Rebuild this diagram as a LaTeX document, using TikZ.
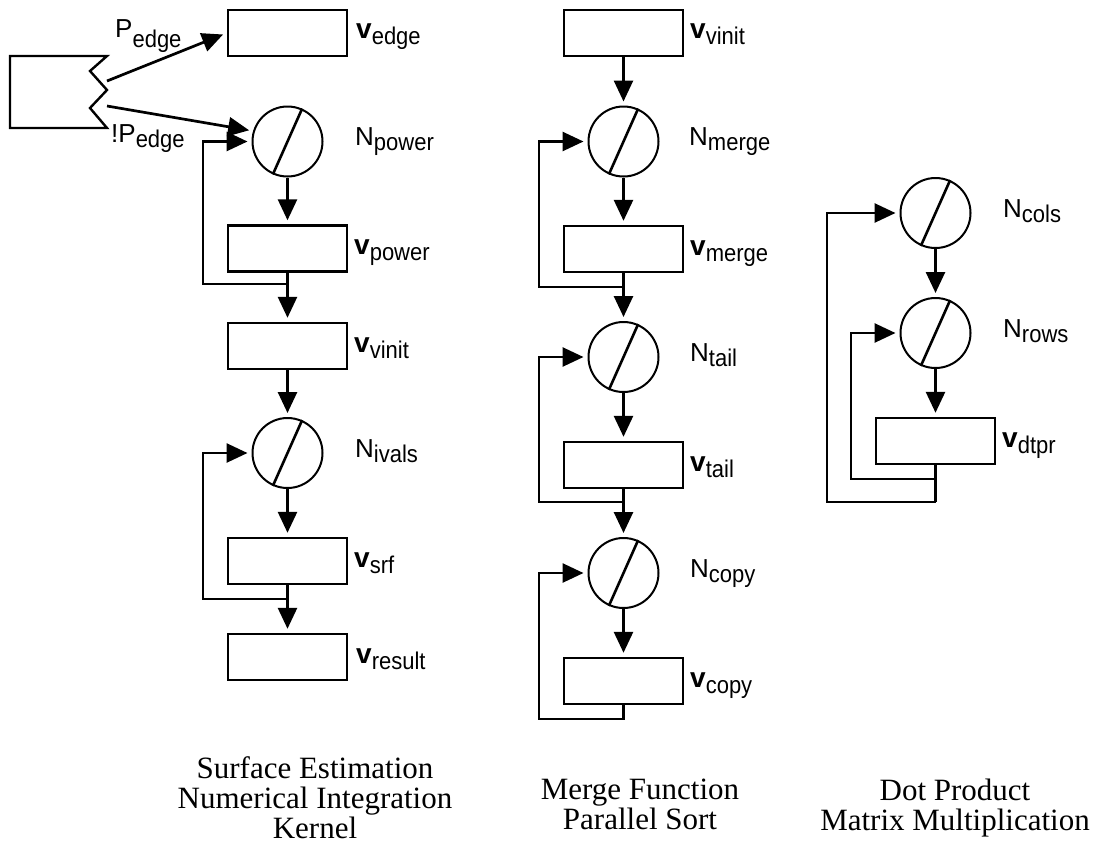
\documentclass[tikz,border=0pt]{standalone}
\usepackage{graphicx}
\usepackage{fontspec}
\setmainfont{Liberation Serif}
\newfontfamily\labfont{Liberation Sans}
\usetikzlibrary{arrows.meta}

% subscript text: slightly tall sans
\newcommand{\subtxt}[1]{\scalebox{1}[1.1]{\fontsize{22pt}{22pt}\selectfont #1}}
% bold variable name "v" with a lowered subscript
\newcommand{\vname}[1]{{\fontsize{28pt}{28pt}\selectfont\bfseries v}\raisebox{-6pt}{\subtxt{#1}}}
% loop counter "N" with a lowered subscript
\newcommand{\nname}[1]{{\fontsize{26pt}{26pt}\selectfont N}\raisebox{-5pt}{\subtxt{#1}}}
% subscript helper for the predicate labels
\newcommand{\subdrop}[2]{\raisebox{-#1}{\subtxt{#2}}}
% diagonal bar inside a loop ring
\newcommand{\ringbar}[1]{\draw[bar] (#1.246) -- (#1.66);}

\begin{document}
\begin{tikzpicture}[x=1pt,y=-1pt,
  box/.style={draw, line width=2.4pt, minimum width=119pt, minimum height=46pt, inner sep=0pt},
  ring/.style={draw, circle, line width=2pt, minimum size=70pt, inner sep=0pt},
  flow/.style={line width=2.7pt, -{Triangle[length=21pt,width=19pt]}, shorten >=4pt},
  wire/.style={line width=2.7pt},
  bar/.style={line width=2.6pt},
  lab/.style={anchor=base west, inner sep=0pt, font=\labfont\fontsize{24pt}{24pt}\selectfont},
  legend/.style={anchor=north, inner sep=0pt, align=center, font=\fontsize{31pt}{30pt}\selectfont}
]
\useasboundingbox (0,0) rectangle (1100,844);

% ---------------- surface estimation / numerical integration ----------------
\draw[line width=2.4pt] (107,56) -- (10,56) -- (10,128) -- (107,128) -- (90,108) -- (107,90) -- (90,71) -- cycle;
\coordinate (srcA) at (107,81);
\coordinate (srcB) at (107,106);

\node[box] (vedge) at (287.5,33) {};
\node[ring] (npower) at (287.5,141.5) {};
\node[box] (vpower) at (287.5,248.5) {};
\node[box] (vvinitA) at (287.5,346) {};
\node[ring] (nivals) at (287.5,453) {};
\node[box] (vsrf) at (287.5,561) {};
\node[box] (vresult) at (287.5,657) {};
\ringbar{npower}
\ringbar{nivals}

\coordinate (jA) at (287.5,284);
\coordinate (lA) at (203,284);
\coordinate (jB) at (287.5,599);
\coordinate (lB) at (203,599);

\draw[flow] (srcA) -- (vedge.west);
\draw[flow] (srcB) -- (npower.163);
\draw[flow] (npower.south) -- (vpower.north);
\draw[wire] (vpower.south) -- (jA);
\draw[flow] (jA) -- (vvinitA.north);
\draw[flow] (jA) -- (lA) |- (npower.west);
\draw[flow] (vvinitA.south) -- (nivals.north);
\draw[flow] (nivals.south) -- (vsrf.north);
\draw[wire] (vsrf.south) -- (jB);
\draw[flow] (jB) -- (vresult.north);
\draw[flow] (jB) -- (lB) |- (nivals.west);

\node[lab] (Lpe) at (115,37) {{\fontsize{26pt}{26pt}\selectfont P}\subdrop{10pt}{edge}};
\node[lab] (Lnpe) at (111,142) {{\fontsize{26pt}{26pt}\selectfont !P}\subdrop{5pt}{edge}};
\node[lab] (Lvedge) at (356,38) {\vname{edge}};
\node[lab] (Lnpower) at (355,145.5) {\nname{power}};
\node[lab] (Lvpower) at (354,254.5) {\vname{power}};
\node[lab] (LvvinitA) at (354,352) {\vname{vinit}};
\node[lab] (Lnivals) at (355,457) {\nname{ivals}};
\node[lab] (Lvsrf) at (354,567) {\vname{srf}};
\node[lab] (Lvresult) at (356,663) {\vname{result}};

% ---------------- merge function / parallel sort ----------------
\node[box] (vvinitB) at (623.5,33) {};
\node[ring] (nmerge) at (623.5,141.5) {};
\node[box] (vmerge) at (623.5,249) {};
\node[ring] (ntail) at (623.5,357) {};
\node[box] (vtail) at (623.5,465) {};
\node[ring] (ncopy) at (623.5,573) {};
\node[box] (vcopy) at (623.5,681) {};
\ringbar{nmerge}
\ringbar{ntail}
\ringbar{ncopy}

\coordinate (jC) at (623.5,287);
\coordinate (lC) at (539,287);
\coordinate (jD) at (623.5,502);
\coordinate (lD) at (539,502);
\coordinate (jE) at (623.5,719);
\coordinate (lE) at (539,719);

\draw[flow] (vvinitB.south) -- (nmerge.north);
\draw[flow] (nmerge.south) -- (vmerge.north);
\draw[wire] (vmerge.south) -- (jC);
\draw[flow] (jC) -- (ntail.north);
\draw[flow] (jC) -- (lC) |- (nmerge.west);
\draw[flow] (ntail.south) -- (vtail.north);
\draw[wire] (vtail.south) -- (jD);
\draw[flow] (jD) -- (ncopy.north);
\draw[flow] (jD) -- (lD) |- (ntail.west);
\draw[flow] (ncopy.south) -- (vcopy.north);
\draw[flow] (vcopy.south) -- (jE) -- (lE) |- (ncopy.west);

\node[lab] (LvvinitB) at (690,38) {\vname{vinit}};
\node[lab] (Lnmerge) at (689,145.5) {\nname{merge}};
\node[lab] (Lvmerge) at (690,255) {\vname{merge}};
\node[lab] (Lntail) at (690,361) {\nname{tail}};
\node[lab] (Lvtail) at (690,471) {\vname{tail}};
\node[lab] (Lncopy) at (690,577) {\nname{copy}};
\node[lab] (Lvcopy) at (690,687) {\vname{copy}};

% ---------------- dot product / matrix multiplication ----------------
\node[ring] (ncols) at (935.5,213) {};
\node[ring] (nrows) at (935.5,333) {};
\node[box] (vdtpr) at (935.5,441) {};
\ringbar{ncols}
\ringbar{nrows}

\coordinate (jF) at (935.5,479);
\coordinate (lF) at (851,479);
\coordinate (jG) at (935.5,502);
\coordinate (lG) at (827,502);

\draw[flow] (ncols.south) -- (nrows.north);
\draw[flow] (nrows.south) -- (vdtpr.north);
\draw[wire] (vdtpr.south) -- (jG);
\draw[flow] (jF) -- (lF) |- (nrows.west);
\draw[flow] (jG) -- (lG) |- (ncols.west);

\node[lab] (Lncols) at (1003,217) {\nname{cols}};
\node[lab] (Lnrows) at (1003,337) {\nname{rows}};
\node[lab] (Lvdtpr) at (1002,447) {\vname{dtpr}};

% ---------------- captions ----------------
\node[legend] (capA) at (315,756) {Surface Estimation\\Numerical Integration\\Kernel};
\node[legend] (capB) at (640,779) {Merge Function\\Parallel Sort};
\node[legend] (capC) at (955,779) {Dot Product\\Matrix Multiplication};
\end{tikzpicture}
\end{document}
